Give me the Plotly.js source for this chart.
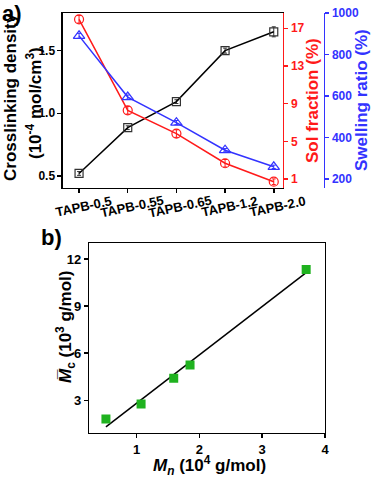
<!DOCTYPE html>
<html>
<head>
<meta charset="utf-8">
<script src="https://cdn.plot.ly/plotly-3.0.1.min.js"></script>
<style>html,body{margin:0;padding:0;background:#fff;}#chart{width:371px;height:477px;}</style>
</head>
<body>
<div id="chart"></div>
<script>
// Panel a data
const samples = ["TAPB-0.5", "TAPB-0.55", "TAPB-0.65", "TAPB-1.2", "TAPB-2.0"];
const crosslinkDensity = [0.52, 0.885, 1.093, 1.50, 1.65];
const crosslinkErr = [0.015, 0.015, 0.015, 0.02, 0.04];
const solFraction = [17.95, 8.29, 5.82, 2.67, 0.71];
const solErr = [0.4, 0.4, 0.4, 0.4, 0.3];
const swellingRatio = [890, 595, 472, 339, 259];
const swellErr = [12, 10, 10, 8, 8];

// Panel b data
const mn = [0.51, 1.07, 1.59, 1.85, 3.70];
const mc = [1.81, 2.76, 4.40, 5.25, 11.34];

// least-squares fit line for panel b
function linfit(x, y) {
  const n = x.length;
  const mx = x.reduce((a, b) => a + b, 0) / n;
  const my = y.reduce((a, b) => a + b, 0) / n;
  let sxy = 0, sxx = 0;
  for (let i = 0; i < n; i++) { sxy += (x[i] - mx) * (y[i] - my); sxx += (x[i] - mx) ** 2; }
  const k = sxy / sxx;
  return { k: k, b: my - k * mx };
}
const fit = linfit(mn, mc);
const fitX = [Math.min(...mn), Math.max(...mn)];
const fitY = fitX.map(v => fit.k * v + fit.b);

const FONT = "Liberation Sans, Arial, sans-serif";
const RED = "#ff1a1a", BLUE = "#3333ff", BLACK = "#000", GREEN = "#1fb21f";

const traces = [
  { x: samples, y: crosslinkDensity, xaxis: "x", yaxis: "y", type: "scatter", mode: "lines+markers",
    line: { color: BLACK, width: 1.5 },
    marker: { symbol: "square-open", size: 8, color: "#333", line: { width: 1.2 } },
    error_y: { type: "data", array: crosslinkErr, color: "#333", thickness: 1, width: 2 } },
  { x: samples, y: solFraction, xaxis: "x", yaxis: "y2", type: "scatter", mode: "lines+markers",
    line: { color: RED, width: 1.5 },
    marker: { symbol: "circle-open", size: 9, color: RED, line: { width: 1.2 } },
    error_y: { type: "data", array: solErr, color: RED, thickness: 1, width: 2 } },
  { x: samples, y: swellingRatio, xaxis: "x", yaxis: "y3", type: "scatter", mode: "lines+markers",
    line: { color: BLUE, width: 1.5 },
    marker: { symbol: "triangle-up-open", size: 10, color: BLUE, line: { width: 1.2 } },
    error_y: { type: "data", array: swellErr, color: BLUE, thickness: 1, width: 2 } },
  { x: fitX, y: fitY, xaxis: "x2", yaxis: "y4", type: "scatter", mode: "lines",
    line: { color: BLACK, width: 1.5 } },
  { x: mn, y: mc, xaxis: "x2", yaxis: "y4", type: "scatter", mode: "markers",
    marker: { symbol: "square", size: 9, color: GREEN } }
];

const tickA = { family: FONT, size: 12, color: BLACK, weight: "bold" };
const tickB = { family: FONT, size: 13, color: BLACK, weight: "bold" };
const TS = 17;
const titleFont = (c) => ({ family: FONT, size: TS, color: c, weight: "bold" });

function ann(text, x, y, opts) {
  return Object.assign({ text: text, xref: "paper", yref: "paper", x: x / 371, y: 1 - y / 477,
    xanchor: "center", yanchor: "middle", showarrow: false, font: titleFont(BLACK) }, opts || {});
}

const annotations = [
  ann("Crosslinking density", 10, 97, { textangle: -90 }),
  ann("(10<sup>-4</sup> mol/cm<sup>3</sup>)", 34, 103, { textangle: -90 }),
  ann("Sol fraction (%)", 312, 101, { textangle: -90, font: titleFont(RED) }),
  ann("Swelling ratio (%)", 361, 100, { textangle: -90, font: titleFont(BLUE) }),
  ann("<i>M<sub>n</sub></i> (10<sup>4</sup> g/mol)", 209.5, 465),
  ann("<i>M\u0305</i><sub>c</sub> (10<sup>3</sup> g/mol)", 65, 327, { textangle: -90 }),
  ann("a)", 1, 0, { xanchor: "left", yanchor: "top", borderpad: 0, font: { family: FONT, size: 22, color: BLACK, weight: "bold" } }),
  ann("b)", 39, 237, { xanchor: "left", font: { family: FONT, size: 22, color: BLACK, weight: "bold" } })
];
// rotated category labels centred on their ticks
samples.forEach(s => annotations.push({
  text: s, xref: "x", yref: "paper", x: s, y: 1 - 206 / 477, xshift: 4,
  xanchor: "center", yanchor: "middle", textangle: -12, showarrow: false,
  font: { family: FONT, size: 13, color: BLACK, weight: "bold" }
}));

const layout = {
  width: 371, height: 477,
  margin: { l: 0, r: 0, t: 0, b: 0 },
  paper_bgcolor: "#fff", plot_bgcolor: "#fff",
  showlegend: false,
  font: { family: FONT, weight: "bold" },
  xaxis: {
    domain: [0.1698, 0.7628], anchor: "y", range: [-0.33, 4.19],
    showline: true, linecolor: BLACK, linewidth: 1.5, mirror: true,
    ticks: "outside", ticklen: 4, tickwidth: 1.5, tickcolor: BLACK,
    showgrid: false, zeroline: false, showticklabels: false
  },
  yaxis: {
    domain: [0.6059, 0.9727], anchor: "x", range: [0.404, 1.80],
    showline: true, linecolor: BLACK, linewidth: 1.5,
    ticks: "outside", ticklen: 4, tickwidth: 1.5, tickcolor: BLACK,
    showgrid: false, zeroline: false, tickvals: [0.5, 1.0, 1.5], ticktext: ["0.5", "1.0", "1.5"],
    tickfont: tickA
  },
  yaxis2: {
    overlaying: "y", anchor: "x", side: "right", range: [0.045, 18.62],
    showline: true, linecolor: RED, linewidth: 1.5,
    ticks: "outside", ticklen: 4, tickwidth: 1.5, tickcolor: RED,
    showgrid: false, zeroline: false, tickvals: [1, 5, 9, 13, 17],
    tickfont: { family: FONT, size: 12, color: RED, weight: "bold" }
  },
  yaxis3: {
    overlaying: "y", anchor: "free", side: "right", position: 0.8733, range: [157, 1000],
    showline: true, linecolor: BLUE, linewidth: 1.5,
    ticks: "outside", ticklen: 4, tickwidth: 1.5, tickcolor: BLUE,
    showgrid: false, zeroline: false, tickvals: [200, 400, 600, 800, 1000],
    tickfont: { family: FONT, size: 12, color: BLUE, weight: "bold" }
  },
  xaxis2: {
    domain: [0.2407, 0.876], anchor: "y4", range: [0.245, 4.0],
    showline: true, linecolor: BLACK, linewidth: 1.5, mirror: true,
    ticks: "outside", ticklen: 4, tickwidth: 1.5, tickcolor: BLACK,
    showgrid: false, zeroline: false, tickvals: [1, 2, 3, 4],
    tickfont: tickB
  },
  yaxis4: {
    domain: [0.0929, 0.4899], anchor: "x2", range: [0.94, 13.0],
    showline: true, linecolor: BLACK, linewidth: 1.5, mirror: true,
    ticks: "outside", ticklen: 4, tickwidth: 1.5, tickcolor: BLACK,
    showgrid: false, zeroline: false, tickvals: [3, 6, 9, 12],
    tickfont: tickB
  },
  annotations: annotations
};

Plotly.newPlot("chart", traces, layout, { displayModeBar: false, staticPlot: true });
</script>
</body>
</html>
